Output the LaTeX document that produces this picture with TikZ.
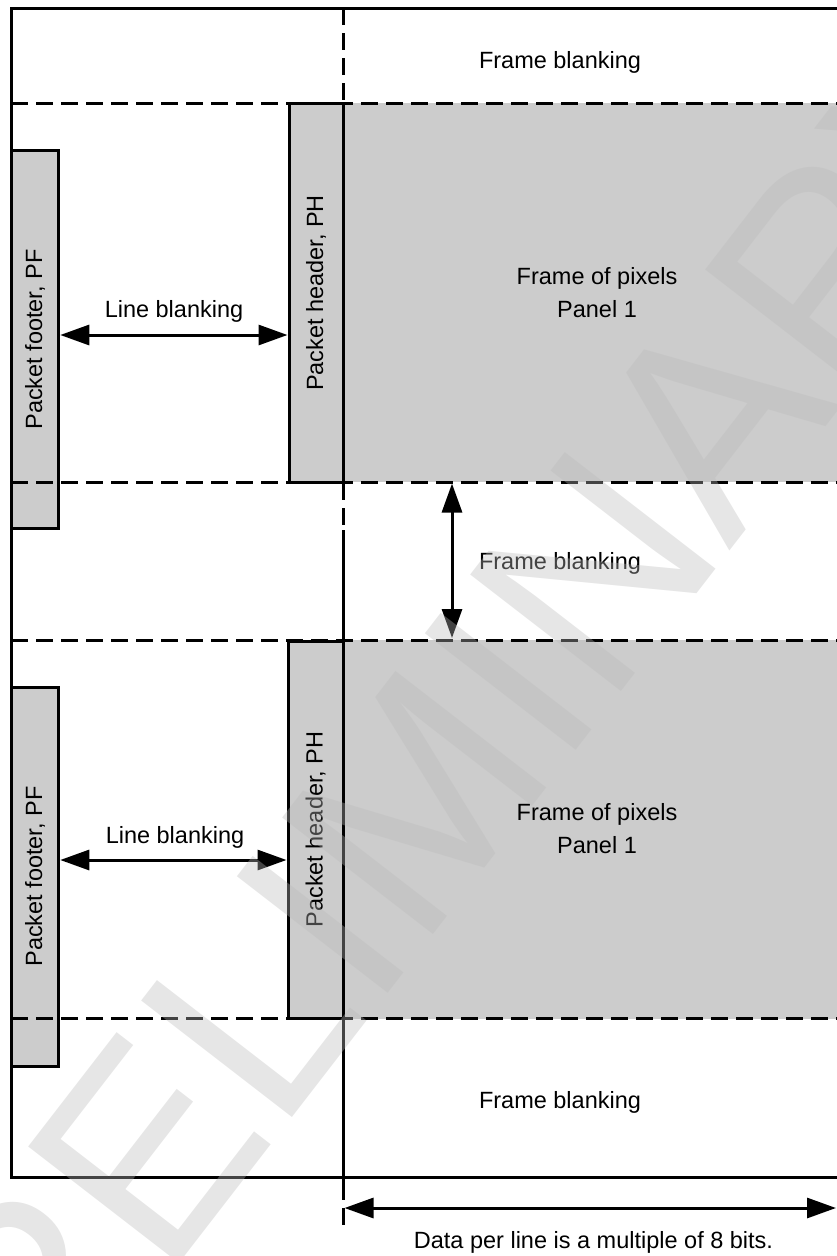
\documentclass[tikz,border=0pt]{standalone}
\usepackage{fontspec}
\setmainfont{Liberation Sans}
\usepackage{graphicx}
\usepackage{tikz}
\usetikzlibrary{arrows.meta,positioning,calc}
\definecolor{pixgray}{RGB}{204,204,204}
\definecolor{wmgray}{RGB}{186,186,186}

\begin{document}
\begin{tikzpicture}[x=1pt, y=-1pt, line width=3pt,
    every node/.style={font=\fontsize{23.5}{33}\selectfont, inner sep=0pt},
    pixframe/.style={fill=pixgray, minimum width=508pt, minimum height=379pt, align=center},
    pktbox/.style={draw, fill=pixgray},
    dashline/.style={dash pattern=on 17pt off 8pt},
    dimarrow/.style={{Triangle[length=29pt,width=20pt]}-{Triangle[length=29pt,width=20pt]}}]
    \useasboundingbox (0,0) rectangle (836,1256);
    \node[pixframe] (fr1) at (597,292.5) {Frame of pixels\\Panel 1};
    \node[pixframe] (fr2) at (597,829) {Frame of pixels\\Panel 1};
    \node[pktbox, minimum width=54pt, minimum height=379pt] (ph1) at (316,293) {\rotatebox{90}{Packet header, PH}};
    \node[pktbox, minimum width=55pt, minimum height=377pt] (ph2) at (315.5,829.5) {\rotatebox{90}{Packet header, PH}};
    \node[pktbox, minimum width=47.5pt, minimum height=378pt] (pf1) at (35,339.5) {\rotatebox{90}{Packet footer, PF}};
    \node[pktbox, minimum width=47.5pt, minimum height=379pt] (pf2) at (35,876.5) {\rotatebox{90}{Packet footer, PF}};
    \draw (851,8) -- (11,8) -- (11,1177) -- (851,1177);
    \foreach \y in {103,482,640,1018}
        \draw[dashline] (11,\y) -- (851,\y);
    \draw[dashline] (343,8) -- (343,1225);
    \draw (343,530) -- (343,1187);
    \node (fbtop) at (560,62) {Frame blanking};
    \node (fbmid) at (560,563) {Frame blanking};
    \node (fbbot) at (560,1102) {Frame blanking};
    \node (lb1) at (174,311) {Line blanking};
    \node (lb2) at (175,837) {Line blanking};
    \node (dpl) at (593.5,1242) {Data per line is a multiple of 8 bits.};
    \coordinate (lbrow1) at (0,335);
    \coordinate (lbrow2) at (0,860);
    \coordinate (fbcol) at (452,0);
    \coordinate (dlend) at (836,1208);
    \draw[dimarrow] (pf1.east |- lbrow1) -- (ph1.west |- lbrow1);
    \draw[dimarrow] (pf2.east |- lbrow2) -- (ph2.west |- lbrow2);
    \draw[dimarrow] (fr1.south -| fbcol) -- (fr2.north -| fbcol);
    \draw[dimarrow] (ph2.east |- dlend) -- (dlend);
    \node[rotate=52.3, text=wmgray, text opacity=0.365, font=\fontsize{277}{277}\selectfont] (wm) at (427,787) {PRELIMINARY};
\end{tikzpicture}
\end{document}
